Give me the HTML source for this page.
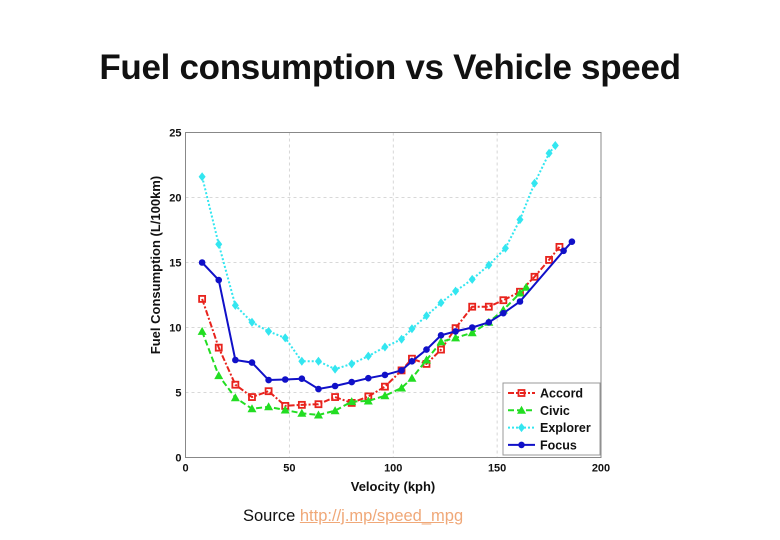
<!DOCTYPE html>
<html><head><meta charset="utf-8">
<style>
body{margin:0;background:#fff;width:780px;height:540px;overflow:hidden;font-family:"Liberation Sans",sans-serif}
#title{position:absolute;left:0;width:780px;top:48px;text-align:center;font-size:35px;font-weight:bold;color:#111;font-family:"Liberation Sans",sans-serif;letter-spacing:-0.3px}
#src{position:absolute;left:243px;top:507px;font-size:16.5px;color:#111}
#src a{color:#f0a878;text-decoration:underline}
svg{position:absolute;left:0;top:0}
</style></head><body>
<div id="title">Fuel consumption vs Vehicle speed</div>
<div id="src">Source <a>http://j.mp/speed_mpg</a></div>
<svg id="chart" width="780" height="540"></svg>
<script>
const xTicks=[0,50,100,150,200];
const yTicks=[0,5,10,15,20,25];
const accordX=[8,16,24,32,40,48,56,64,72,80,88,96,104,109,116,123,130,138,146,153,161,168,175,180];
const accordY=[12.2,8.45,5.6,4.65,5.1,3.97,4.05,4.1,4.65,4.2,4.7,5.45,6.7,7.6,7.2,8.3,9.95,11.6,11.6,12.1,12.75,13.9,15.2,16.2];
const civicX=[8,16,24,32,40,48,56,64,72,80,88,96,104,109,116,123,130,138,146,153,161,164];
const civicY=[9.7,6.3,4.6,3.75,3.9,3.65,3.4,3.27,3.6,4.3,4.35,4.75,5.35,6.1,7.5,8.9,9.2,9.6,10.4,11.35,12.65,13.1];
const explorerX=[8,16,24,32,40,48,56,64,72,80,88,96,104,109,116,123,130,138,146,154,161,168,175,178];
const explorerY=[21.6,16.4,11.7,10.4,9.7,9.2,7.4,7.4,6.8,7.2,7.8,8.5,9.1,9.9,10.9,11.9,12.8,13.7,14.8,16.1,18.3,21.1,23.4,24.0];
const focusX=[8,16,24,32,40,48,56,64,72,80,88,96,104,109,116,123,130,138,146,153,161,182,186];
const focusY=[15.0,13.65,7.5,7.3,5.96,6.0,6.06,5.27,5.5,5.8,6.1,6.35,6.7,7.4,8.3,9.4,9.7,10.0,10.4,11.1,12.0,15.9,16.6];
const seriesNames=["Accord","Civic","Explorer","Focus"];

const L=185.5,R=601,T=132.5,B=457.5;
const sx=v=>L+(v-0)/200*(R-L);
const sy=v=>B-v/25*(B-T);
const svg=document.getElementById('chart');
const NS='http://www.w3.org/2000/svg';
function mk(t,a){const e=document.createElementNS(NS,t);for(const k in a)e.setAttribute(k,a[k]);svg.appendChild(e);return e;}

xTicks.forEach(v=>{if(v>0&&v<200){const g=mk('line',{x1:sx(v),x2:sx(v),y1:T,y2:B,stroke:'#ccc','stroke-dasharray':'3,3','stroke-width':0.8});

}});
yTicks.forEach(v=>{if(v>0&&v<25){const g=mk('line',{x1:L,x2:R,y1:sy(v),y2:sy(v),stroke:'#ccc','stroke-dasharray':'3,3','stroke-width':0.8});

}});
const box=mk('rect',{x:L,y:T,width:R-L,height:B-T,fill:'none',stroke:'#888','stroke-width':1});


xTicks.forEach(v=>{const t=mk('text',{x:sx(v),y:B+14,'text-anchor':'middle','font-size':11,'font-weight':'bold',fill:'#111'});t.textContent=v;

});
yTicks.forEach(v=>{const t=mk('text',{x:L-4,y:sy(v)+4,'text-anchor':'end','font-size':11,'font-weight':'bold',fill:'#111'});t.textContent=v;

});
const xt=mk('text',{x:393,y:491,'text-anchor':'middle','font-size':13,'font-weight':'bold',fill:'#111'});xt.textContent='Velocity (kph)';


const yt=mk('text',{x:0,y:0,'text-anchor':'middle','font-size':13,'font-weight':'bold',fill:'#111',transform:'translate(160,265) rotate(-90)'});yt.textContent='Fuel Consumption (L/100km)';



function marker(type,x,y,c){
  let e;
  if(type==='sq') e=mk('rect',{x:x-3,y:y-3,width:6,height:6,fill:'none',stroke:c,'stroke-width':1.8});
  else if(type==='tri') e=mk('polygon',{points:`${x},${y-4.5} ${x-4.5},${y+3.5} ${x+4.5},${y+3.5}`,fill:c});
  else if(type==='dia') e=mk('polygon',{points:`${x},${y-4.5} ${x+3.5},${y} ${x},${y+4.5} ${x-3.5},${y}`,fill:c});
  else e=mk('circle',{cx:x,cy:y,r:3.3,fill:c});
  return e;
}
const defs=[
 {xs:accordX,ys:accordY,c:'#e8231d',dash:'6,2,2,2',m:'sq',n:'accord'},
 {xs:civicX,ys:civicY,c:'#22dd22',dash:'6,3',m:'tri',n:'civic'},
 {xs:explorerX,ys:explorerY,c:'#33e6f0',dash:'2,2',m:'dia',n:'explorer'},
 {xs:focusX,ys:focusY,c:'#1010c8',dash:'',m:'dot',n:'focus'}];
defs.forEach(d=>{
  const pts=d.xs.map((x,i)=>sx(x)+','+sy(d.ys[i])).join(' ');
  const pl=mk('polyline',{points:pts,fill:'none',stroke:d.c,'stroke-width':2,'stroke-dasharray':d.dash});
  
  
  d.xs.forEach((x,i)=>{const m=marker(d.m,sx(x),sy(d.ys[i]),d.c);
    
    });
});
const lg=mk('rect',{x:503,y:383,width:97,height:72,fill:'#fff',stroke:'#999','stroke-width':1});


defs.forEach((d,i)=>{
  const y=393+i*17.3;
  const l=mk('line',{x1:508,x2:535,y1:y,y2:y,stroke:d.c,'stroke-width':2,'stroke-dasharray':d.dash});
  
  
  const m=marker(d.m,521.5,y,d.c);
  
  
  const t=mk('text',{x:540,y:y+4.5,'font-size':12.5,'font-weight':'bold',fill:'#111'});t.textContent=seriesNames[i];
  
  
});
</script>
</body></html>
